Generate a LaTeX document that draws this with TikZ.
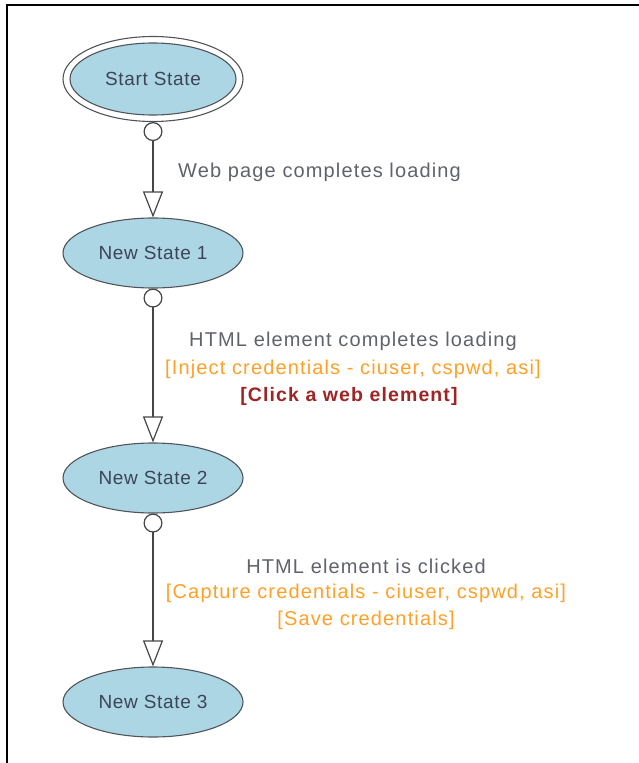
\documentclass[tikz,border=0pt]{standalone}
\usepackage{fontspec}
\usetikzlibrary{shapes.geometric,arrows.meta}
\setmainfont{Liberation Sans}
\newfontfamily\statefont[LetterSpace=3.6]{Liberation Sans}
\newfontfamily\labelfont[LetterSpace=5.7]{Liberation Sans}
\definecolor{statefill}{RGB}{173,214,228}
\definecolor{statedraw}{RGB}{80,84,90}
\definecolor{statetext}{RGB}{60,68,88}
\definecolor{evtext}{RGB}{96,98,108}
\definecolor{acttext}{RGB}{255,160,40}
\definecolor{cmdtext}{RGB}{160,36,36}
\definecolor{linecol}{RGB}{70,70,70}
\tikzset{
  statebox/.style={ellipse, draw=statedraw, fill=statefill, line width=1.1pt,
    minimum width=180pt, minimum height=70pt, inner sep=0pt,
    text=statetext, font=\statefont\fontsize{19}{21}\selectfont},
  startring/.style={ellipse, draw=statedraw, line width=1.1pt,
    minimum width=180pt, minimum height=85pt, inner sep=0pt},
  conn/.style={draw=linecol, line width=1.2pt,
    {Circle[open, length=19pt, width=19pt, fill=white]}-{Triangle[open, length=26pt, width=20pt, fill=white]}},
  evlabel/.style={text=evtext, font=\labelfont\fontsize{20}{22}\selectfont, inner sep=0pt},
  actlabel/.style={text=acttext, font=\labelfont\fontsize{20}{22}\selectfont, inner sep=0pt},
  cmdlabel/.style={text=cmdtext, font=\labelfont\bfseries\fontsize{19.5}{22}\selectfont, inner sep=0pt},
  frameline/.style={draw=black, line width=2pt}
}
\begin{document}
\begin{tikzpicture}[x=1pt, y=-1pt]
  \useasboundingbox (0,0) rectangle (639,763);
  % frame: top and left edges only
  \coordinate (ftr) at (639,5);
  \coordinate (ftl) at (7,5);
  \coordinate (fbl) at (7,763);
  \draw[frameline] (ftr) -- (ftl) -- (fbl);

  % states
  \node[startring] (s0o) at (153,79) {};
  \node[statebox, minimum width=166pt, minimum height=72pt] (s0) at (153,79) {Start State};
  \node[statebox] (s1) at (153,253) {New State 1};
  \node[statebox] (s2) at (153,478) {New State 2};
  \node[statebox] (s3) at (153,702) {New State 3};

  % transitions
  \draw[conn] (s0o.south) -- (s1.north);
  \draw[conn] (s1.south) -- (s2.north);
  \draw[conn] (s2.south) -- (s3.north);

  % transition labels
  \node[evlabel, anchor=west] (l1) at (178,172) {Web page completes loading};

  \node[evlabel] (l2a) at (353,341) {HTML element completes loading};
  \node[actlabel] (l2b) at (353,369) {[Inject credentials - ciuser, cspwd, asi]};
  \node[cmdlabel] (l2c) at (349,396) {[Click a web element]};

  \node[evlabel] (l3a) at (366,566) {HTML element is clicked};
  \node[actlabel] (l3b) at (366,593) {[Capture credentials - ciuser, cspwd, asi]};
  \node[actlabel] (l3c) at (366,620) {[Save credentials]};
\end{tikzpicture}
\end{document}
